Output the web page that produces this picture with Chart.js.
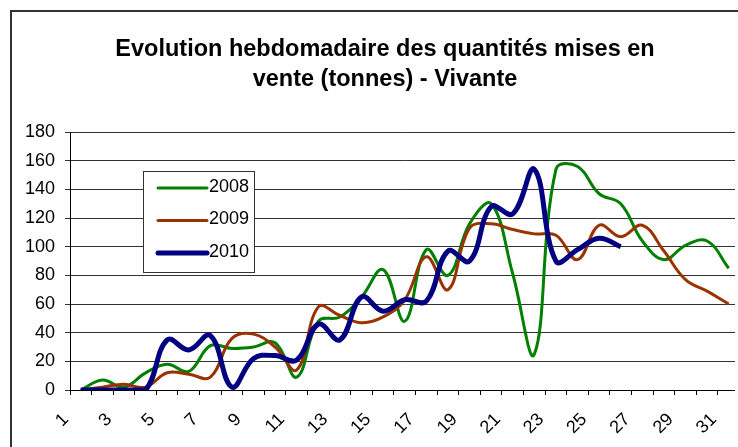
<!DOCTYPE html>
<html>
<head>
<meta charset="utf-8">
<script src="https://cdn.jsdelivr.net/npm/chart.js@4.4.1/dist/chart.umd.min.js"></script>
<style>
  html, body { margin: 0; padding: 0; background: #fff; overflow: hidden; }
  #clip { position: relative; width: 738px; height: 447px; overflow: hidden; background: #fff; }
  .edge { position: absolute; background: #333; }
  #wrap { position: absolute; left: 12px; top: 12px; width: 746px; height: 435px; }
  #rightMask { position: absolute; left: 735px; top: 12px; width: 3px; height: 435px; background: #fff; z-index: 2; }
</style>
</head>
<body>
<div id="clip">
  <div class="edge" style="left:10px; top:10px; width:2px; height:437px;"></div>
  <div class="edge" style="left:10px; top:10px; width:728px; height:2px;"></div>
  <div id="wrap"><canvas id="chart"></canvas></div>
  <div id="rightMask"></div>
</div>
<script>
// ---------- Data ----------
const WEEKS = ['1','2','3','4','5','6','7','8','9','10','11','12','13','14','15','16',
  '17','18','19','20','21','22','23','24','25','26','27','28','29','30','31'];
const SERIES_NAMES = ['2008', '2009', '2010'];
const Q_2008 = [0, 7, 2, 12, 18, 13, 31, 29, 30, 33, 9, 48, 51, 65, 84, 48,
  98, 80, 116, 130, 81, 25, 154, 156, 137, 130, 104, 91, 101, 104, 85];
const Q_2009 = [0, 2, 4, 2, 12, 11, 9, 36, 39, 30, 14, 58, 52, 47, 51, 63,
  93, 70, 113, 116, 112, 109, 108, 91, 115, 107, 115, 97, 77, 69, 60];
const Q_2010 = [0, 0, 0, 0, 35, 28, 38, 2, 22, 24, 21, 46, 35, 65, 55, 63,
  62, 97, 90, 128, 123, 154, 90, 98, 106, 100, null, null, null, null, null];
const Y_TICKS = [0, 20, 40, 60, 80, 100, 120, 140, 160, 180];

const COLORS = ['#008000', '#993300', '#000080'];
const FONT = "'Liberation Sans', Arial, sans-serif";

// legend box drawn inside the plot, Excel style
const boxLegend = {
  id: 'boxLegend',
  afterDraw(chart, args, opts) {
    const ctx = chart.ctx;
    ctx.save();
    ctx.fillStyle = '#fff';
    ctx.fillRect(opts.x, opts.y, opts.w, opts.h);
    ctx.strokeStyle = '#333';
    ctx.lineWidth = 1;
    ctx.strokeRect(opts.x + 0.5, opts.y + 0.5, opts.w, opts.h);
    ctx.font = '18px ' + FONT;
    ctx.textBaseline = 'middle';
    ctx.fillStyle = '#000';
    chart.data.datasets.forEach((ds, i) => {
      const y = opts.y + opts.firstRow + i * opts.rowGap;
      ctx.beginPath();
      ctx.strokeStyle = ds.borderColor;
      ctx.lineWidth = ds.borderWidth;
      ctx.lineCap = 'round';
      ctx.moveTo(opts.x + 15, y);
      ctx.lineTo(opts.x + 64, y);
      ctx.stroke();
      ctx.fillText(ds.label, opts.x + 66, y - 1);
    });
    ctx.restore();
  }
};

const datasets = [Q_2008, Q_2009, Q_2010].map((vals, i) => ({
  label: SERIES_NAMES[i],
  data: vals,
  borderColor: COLORS[i],
  backgroundColor: COLORS[i],
  borderWidth: i === 2 ? 5 : 3,
  pointRadius: 0,
  tension: 0.4,
  fill: false,
  order: 3 - i
}));

new Chart(document.getElementById('chart'), {
  type: 'line',
  data: { labels: WEEKS, datasets },
  options: {
    responsive: true,
    maintainAspectRatio: false,
    animation: false,
    layout: { padding: 0 },
    plugins: {
      legend: { display: false },
      tooltip: { enabled: false },
      title: {
        display: true,
        text: ['Evolution hebdomadaire des quantités mises en', 'vente (tonnes) - Vivante'],
        color: '#000',
        font: { family: FONT, size: 23.5, weight: 'bold', lineHeight: 1.28 },
        padding: { top: 22, bottom: 38 }
      },
      boxLegend: { x: 131, y: 159, w: 111, h: 101, firstRow: 17, rowGap: 32.5 }
    },
    scales: {
      x: {
        offset: true,
        grid: { offset: true, drawOnChartArea: false, drawTicks: true, tickLength: 5, color: '#000' },
        border: { color: '#000', width: 1 },
        ticks: {
          color: '#000',
          font: { family: FONT, size: 18 },
          autoSkip: false,
          maxRotation: 45,
          minRotation: 45,
          padding: 14,
          labelOffset: -15,
          callback: (v, i) => (i % 2 === 0 ? WEEKS[i] : '')
        },
        afterFit: (s) => { s.height = 57; }
      },
      y: {
        min: 0,
        max: 180,
        afterBuildTicks: (s) => { s.ticks = Y_TICKS.map(v => ({ value: v })); },
        grid: { color: '#333', lineWidth: 1, tickLength: 5 },
        border: { color: '#000', width: 1 },
        ticks: { color: '#000', font: { family: FONT, size: 18 }, padding: 10 },
        afterFit: (s) => { s.width = 58; }
      }
    }
  },
  plugins: [boxLegend]
});
</script>
</body>
</html>
